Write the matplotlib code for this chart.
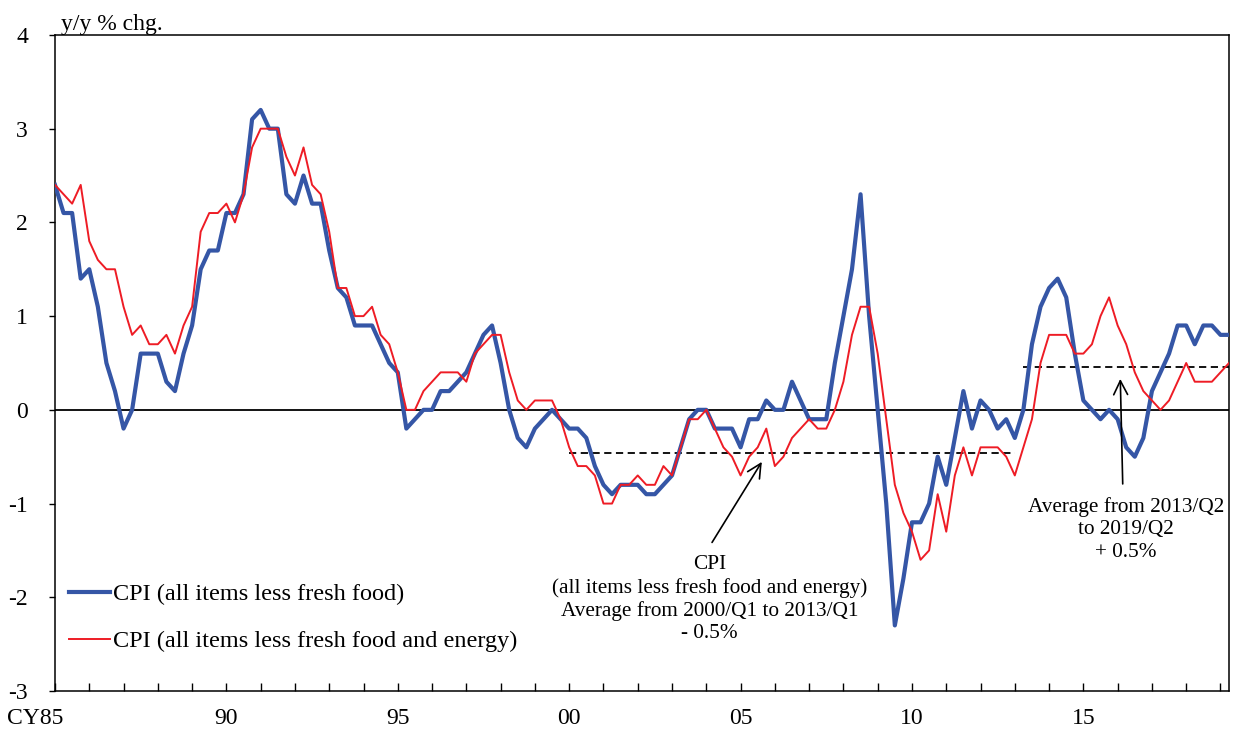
import matplotlib
matplotlib.use("Agg")
import matplotlib.pyplot as plt
import matplotlib.transforms as mtransforms
import numpy as np

plt.rcParams['font.family'] = ['Liberation Serif', 'DejaVu Serif']

# quarterly, 1985/Q1 .. 2019/Q2, y/y % chg.
cpi_core = [2.4, 2.1, 2.1, 1.4, 1.5, 1.1, 0.5, 0.2, -0.2, 0.0,
            0.6, 0.6, 0.6, 0.3, 0.2, 0.6, 0.9, 1.5, 1.7, 1.7,
            2.1, 2.1, 2.3, 3.1, 3.2, 3.0, 3.0, 2.3, 2.2, 2.5,
            2.2, 2.2, 1.7, 1.3, 1.2, 0.9, 0.9, 0.9, 0.7, 0.5,
            0.4, -0.2, -0.1, 0.0, 0.0, 0.2, 0.2, 0.3, 0.4, 0.6,
            0.8, 0.9, 0.5, 0.0, -0.3, -0.4, -0.2, -0.1, 0.0, -0.1,
            -0.2, -0.2, -0.3, -0.6, -0.8, -0.9, -0.8, -0.8, -0.8, -0.9,
            -0.9, -0.8, -0.7, -0.4, -0.1, 0.0, 0.0, -0.2, -0.2, -0.2,
            -0.4, -0.1, -0.1, 0.1, 0.0, 0.0, 0.3, 0.1, -0.1, -0.1,
            -0.1, 0.5, 1.0, 1.5, 2.3, 1.0, 0.0, -1.0, -2.3, -1.8,
            -1.2, -1.2, -1.0, -0.5, -0.8, -0.3, 0.2, -0.2, 0.1, 0.0,
            -0.2, -0.1, -0.3, 0.0, 0.7, 1.1, 1.3, 1.4, 1.2, 0.6,
            0.1, 0.0, -0.1, 0.0, -0.1, -0.4, -0.5, -0.3, 0.2, 0.4,
            0.6, 0.9, 0.9, 0.7, 0.9, 0.9, 0.8, 0.8]

cpi_core_ex_energy = [2.4, 2.3, 2.2, 2.4, 1.8, 1.6, 1.5, 1.5, 1.1, 0.8,
                      0.9, 0.7, 0.7, 0.8, 0.6, 0.9, 1.1, 1.9, 2.1, 2.1,
                      2.2, 2.0, 2.3, 2.8, 3.0, 3.0, 3.0, 2.7, 2.5, 2.8,
                      2.4, 2.3, 1.9, 1.3, 1.3, 1.0, 1.0, 1.1, 0.8, 0.7,
                      0.4, 0.0, 0.0, 0.2, 0.3, 0.4, 0.4, 0.4, 0.3, 0.6,
                      0.7, 0.8, 0.8, 0.4, 0.1, 0.0, 0.1, 0.1, 0.1, -0.1,
                      -0.4, -0.6, -0.6, -0.7, -1.0, -1.0, -0.8, -0.8, -0.7, -0.8,
                      -0.8, -0.6, -0.7, -0.4, -0.1, -0.1, 0.0, -0.2, -0.4, -0.5,
                      -0.7, -0.5, -0.4, -0.2, -0.6, -0.5, -0.3, -0.2, -0.1, -0.2,
                      -0.2, 0.0, 0.3, 0.8, 1.1, 1.1, 0.6, -0.1, -0.8, -1.1,
                      -1.3, -1.6, -1.5, -0.9, -1.3, -0.7, -0.4, -0.7, -0.4, -0.4,
                      -0.4, -0.5, -0.7, -0.4, -0.1, 0.5, 0.8, 0.8, 0.8, 0.6,
                      0.6, 0.7, 1.0, 1.2, 0.9, 0.7, 0.4, 0.2, 0.1, 0.0,
                      0.1, 0.3, 0.5, 0.3, 0.3, 0.3, 0.4, 0.5]

year_labels = ["", "90", "95", "00", "05", "10", "15"]

# averages of the core-core series (dashed lines): (first quarter, last quarter, level)
avg_periods = [(60, 112, -0.46),   # 2000/Q1 - 2013/Q1
               (113, 137, 0.46)]   # 2013/Q2 - 2019/Q2

blue = '#3556a6'
red = '#ee1c25'

q = np.arange(len(cpi_core))

fig = plt.figure(figsize=(12.33, 7.31), dpi=100)
ax = fig.add_axes([0.0446, 0.0547, 0.9522, 0.8975])

ax.axhline(0, color='black', lw=1.3, zorder=1)
for start, end, level in avg_periods:
    ax.plot([start, end], [level, level], color='black', lw=1.3,
            ls=(0, (4, 2.5)), zorder=2)

ax.plot(q, cpi_core, color=blue, lw=3.0, label='CPI (all items less fresh food)', zorder=3)
ax.plot(q, cpi_core_ex_energy, color=red, lw=1.4,
        label='CPI (all items less fresh food and energy)', zorder=4)

ax.set_xlim(0, len(q) - 1)
ax.set_ylim(-3, 4)
ax.set_yticks(range(-3, 5))
ax.set_yticklabels([str(v) for v in range(-3, 5)], fontsize=17)
ax.set_xticks(range(0, len(q), 4))
xlab = []
for t in range(0, len(q), 4):
    xlab.append(year_labels[t // 20] if t % 20 == 0 else "")
ax.set_xticklabels(xlab, fontsize=17)
ax.tick_params(axis='x', direction='in', length=5.5, width=1, pad=12)
ax.tick_params(axis='y', direction='out', length=4.5, width=1, pad=15)
for s in ax.spines.values():
    s.set_linewidth(1.1)
    s.set_color('black')

trans = mtransforms.blended_transform_factory(ax.transData, ax.transAxes)
ax.text(-2.3, -0.042, "CY85", transform=trans, ha='center', va='center', fontsize=17)
ax.text(0.0055, 1.0, "y/y % chg.", transform=ax.transAxes, ha='left', va='bottom',
        fontsize=17)

ax.legend(loc='center left', bbox_to_anchor=(0.012, 0.112), frameon=False, fontsize=17.5,
          handlelength=1.69, handletextpad=0.12, labelspacing=1.03,
          borderpad=0, borderaxespad=0)

ax.annotate("", xy=(82.65, -0.53), xytext=(76.5, -1.44),
            arrowprops=dict(arrowstyle='->,head_length=0.5,head_width=0.25',
                            color='black', lw=1.2, mutation_scale=20))
ax.text(76.4, -1.55, "CPI\n(all items less fresh food and energy)\nAverage from 2000/Q1 to 2013/Q1\n- 0.5%",
        ha='center', va='top', fontsize=15.3, linespacing=1.24, multialignment='center')

ax.annotate("", xy=(124.3, 0.36), xytext=(124.6, -0.82),
            arrowprops=dict(arrowstyle='->,head_length=0.5,head_width=0.25',
                            color='black', lw=1.2, mutation_scale=20))
ax.text(125.0, -0.93, "Average from 2013/Q2\nto 2019/Q2\n+ 0.5%",
        ha='center', va='top', fontsize=15.3, linespacing=1.24, multialignment='center')

fig.savefig("out.png", dpi=100)
